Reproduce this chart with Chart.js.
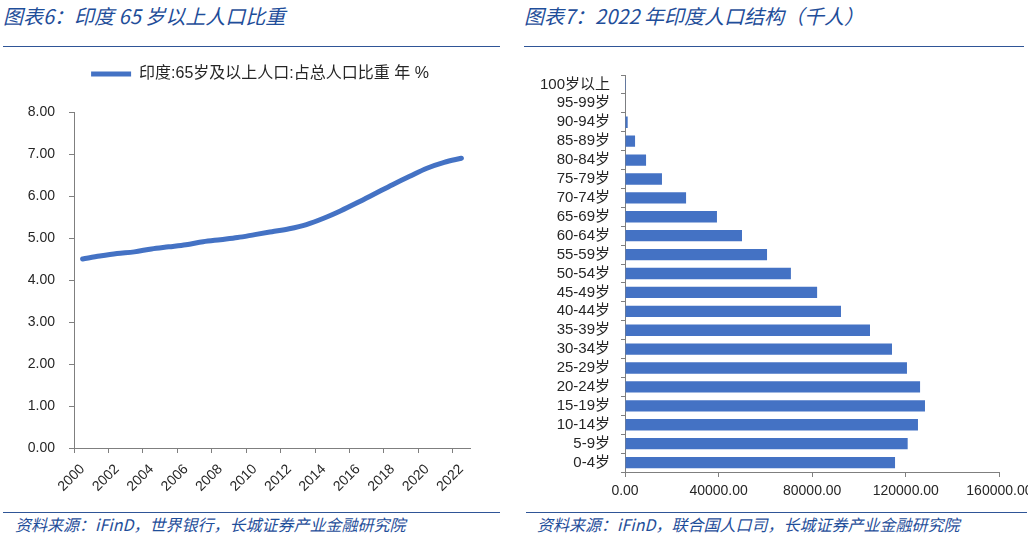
<!DOCTYPE html>
<html><head><meta charset="utf-8">
<script src="https://cdn.jsdelivr.net/npm/chart.js@4.4.1/dist/chart.umd.min.js"></script>
<style>
html,body{margin:0;padding:0;width:1028px;height:535px;overflow:hidden;background:#fff;}
.t{position:absolute;font-family:"Noto Sans CJK SC",sans-serif;font-style:italic;color:#1F4E9A;white-space:nowrap;}
.title{font-size:20px;line-height:20px;top:6px;}
.note{font-size:16px;line-height:16px;top:516px;}
.rule{position:absolute;height:1px;background:#2F5597;}
.box{position:absolute;}
canvas{display:block;}
</style></head><body>
<div class="t title" style="left:3px">图表6：印度 65 岁以上人口比重</div>
<div class="t title" style="left:524px">图表7：2022 年印度人口结构（千人）</div>
<div class="rule" style="left:3px;width:497px;top:46px"></div>
<div class="rule" style="left:524px;width:500px;top:46px"></div>
<div class="box" style="left:0;top:55px"><canvas id="c1" width="515" height="455"></canvas></div>
<div class="box" style="left:520px;top:55px"><canvas id="c2" width="540" height="455"></canvas></div>
<div class="rule" style="left:3px;width:497px;top:512px"></div>
<div class="rule" style="left:526px;width:501px;top:512px"></div>
<div class="t note" style="left:15px">资料来源：iFinD，世界银行，长城证券产业金融研究院</div>
<div class="t note" style="left:537px">资料来源：iFinD，联合国人口司，长城证券产业金融研究院</div>
<script>
const years = ['2000','2001','2002','2003','2004','2005','2006','2007','2008','2009','2010','2011','2012','2013','2014','2015','2016','2017','2018','2019','2020','2021','2022'];
const elderlyShare = [4.50,4.57,4.63,4.67,4.74,4.79,4.84,4.91,4.96,5.01,5.08,5.15,5.22,5.32,5.47,5.65,5.85,6.06,6.27,6.47,6.66,6.80,6.90];
const seriesName = '印度:65岁及以上人口:占总人口比重 年 %';

const ageGroups = ['0-4岁','5-9岁','10-14岁','15-19岁','20-24岁','25-29岁','30-34岁','35-39岁','40-44岁','45-49岁','50-54岁','55-59岁','60-64岁','65-69岁','70-74岁','75-79岁','80-84岁','85-89岁','90-94岁','95-99岁','100岁以上'];
const population2022 = [115400,120800,125200,128200,126100,120500,114100,104700,92300,82100,70900,60700,50000,39300,26100,15800,9000,4300,1150,200,20];

Chart.defaults.font.family = "'Liberation Sans','Noto Sans CJK SC',sans-serif";
const txt = '#262626', axisC = '#7f7f7f', blue = '#4472C4';

const legendShift = {
  id: 'legendShift',
  afterLayout(chart) {
    if (chart.legend) { chart.legend.left += 25; chart.legend.right += 25; }
  }
};

new Chart(document.getElementById('c1'), {
  type: 'line',
  data: { labels: years, datasets: [{
    label: seriesName, data: elderlyShare, xAxisID: 'x', yAxisID: 'y',
    borderColor: blue, backgroundColor: blue, borderWidth: 5,
    borderCapStyle: 'round', borderJoinStyle: 'round', pointRadius: 0,
    cubicInterpolationMode: 'monotone'
  }]},
  plugins: [legendShift],
  options: {
    responsive: false, animation: false, devicePixelRatio: 1,
    layout: { padding: { left: 0, right: 45, top: 1, bottom: 0 } },
    plugins: {
      legend: { display: true, position: 'top', fullSize: true,
        labels: { usePointStyle: true, pointStyle: 'line', pointStyleWidth: 40, color: txt, font: { size: 16 }, padding: 10 } },
      tooltip: { enabled: false }
    },
    scales: {
      x: { type: 'category', offset: true,
        grid: { display: true, drawOnChartArea: false, offset: true, tickLength: 5,
          tickColor: c => (c.index !== undefined && c.type === 'tick' && c.index % 2 === 0) ? axisC : 'rgba(0,0,0,0)' },
        border: { color: axisC },
        ticks: { autoSkip: false, maxRotation: 45, minRotation: 45, color: txt, font: { size: 14 }, padding: 8,
          callback: function(v, i) { return i % 2 === 0 ? this.getLabelForValue(v) : ''; } },
        afterFit: s => { s.height = 62; } },
      xTop: { type: 'category', position: 'top', display: true, grid: { display: false }, border: { display: false },
        ticks: { display: false }, afterFit: s => { s.height = 20; } },
      y: { min: 0, max: 8,
        ticks: { stepSize: 1, callback: v => Number(v).toFixed(2), color: txt, font: { size: 14 }, padding: 14 },
        grid: { drawOnChartArea: false, tickLength: 5, color: axisC },
        border: { color: axisC },
        afterFit: s => { s.width = 74; } }
    }
  }
});

new Chart(document.getElementById('c2'), {
  type: 'bar',
  data: { labels: ageGroups, datasets: [{
    label: '2022年印度人口（千人）', data: population2022,
    backgroundColor: blue, borderWidth: 0, categoryPercentage: 1, barPercentage: 0.6
  }]},
  options: {
    indexAxis: 'y', responsive: false, animation: false, devicePixelRatio: 1,
    layout: { padding: { left: 0, right: 60.6, top: 12, bottom: 0 } },
    plugins: { legend: { display: false }, tooltip: { enabled: false } },
    scales: {
      x: { min: 0, max: 160000,
        ticks: { stepSize: 40000, callback: v => Number(v).toFixed(2), color: txt, font: { size: 14 }, padding: 6, autoSkip: false, maxRotation: 0 },
        grid: { drawOnChartArea: false, tickLength: 5, color: axisC },
        border: { color: axisC },
        afterFit: s => { s.height = 38; } },
      y: { reverse: true, offset: true,
        ticks: { autoSkip: false, color: txt, font: { size: 15 }, padding: 11 },
        grid: { drawOnChartArea: false, offset: true, tickLength: 4, color: axisC },
        border: { color: axisC },
        afterFit: s => { s.width = 105; } }
    }
  }
});
</script>
</body></html>
